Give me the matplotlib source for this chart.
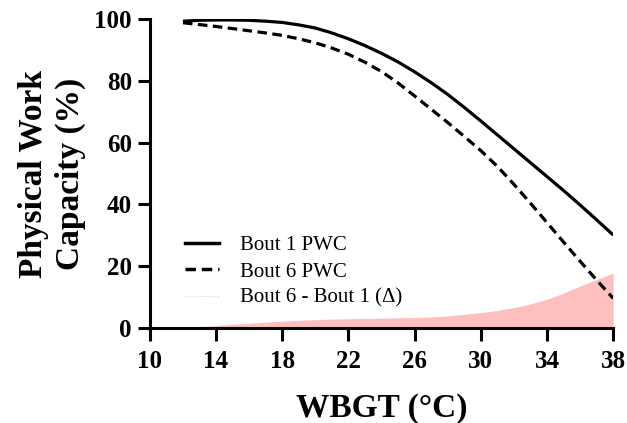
import matplotlib
matplotlib.use('Agg')
import matplotlib.pyplot as plt
from matplotlib.lines import Line2D

wbgt = [12, 13, 14, 15, 16, 17, 18, 19, 20, 21, 22, 23, 24, 25,
        26, 27, 28, 29, 30, 31, 32, 33, 34, 35, 36, 37, 38]
bout1 = [99.3, 99.6, 99.7, 99.7, 99.6, 99.3, 98.9, 98.1, 97.1, 95.5, 93.6, 91.4, 88.9, 86.1,
         82.9, 79.4, 75.6, 71.4, 67.0, 62.5, 58.0, 53.5, 49.0, 44.5, 39.8, 35.0, 30.1]
bout6 = [98.8, 98.2, 97.6, 96.9, 96.2, 95.5, 94.7, 93.6, 92.3, 90.6, 88.6, 86.0, 83.0, 79.3,
         75.1, 70.8, 66.5, 62.0, 57.4, 52.3, 46.5, 40.4, 34.1, 27.8, 21.6, 15.5, 9.6]
delta = [0.0, 0.4, 0.8, 1.2, 1.5, 1.9, 2.2, 2.5, 2.7, 2.9, 3.0, 3.1, 3.2, 3.3,
         3.4, 3.6, 3.9, 4.4, 5.0, 5.7, 6.6, 7.8, 9.3, 11.3, 13.6, 15.7, 17.8]

plt.rcParams['font.family'] = ['Liberation Serif', 'DejaVu Serif']

fig = plt.figure(figsize=(6.27, 4.23), dpi=100)
ax = fig.add_axes([0.239, 0.2246, 0.739, 0.7304])

ax.fill_between(wbgt, 0, delta, color='#ffbfbf', linewidth=0)
ax.plot(wbgt, bout1, color='black', lw=2.3, solid_capstyle='butt')
ax.plot(wbgt, bout6, color='black', lw=2.3, ls=(0, (3, 1.7)))

ax.set_xlim(10, 38)
ax.set_ylim(0, 100)
ax.set_xticks(range(10, 39, 4))
ax.set_yticks(range(0, 101, 20))
for s in ['top', 'right']:
    ax.spines[s].set_visible(False)
for s in ['left', 'bottom']:
    ax.spines[s].set_linewidth(2.2)
ax.tick_params(direction='out', length=9, width=2.2, labelsize=18, pad=4)
ax.tick_params(axis='x', pad=7)
for lab in ax.get_xticklabels() + ax.get_yticklabels():
    lab.set_fontweight('bold')
ax.set_xlabel('WBGT (°C)', fontsize=24, fontweight='bold', labelpad=14)
ax.set_ylabel('Physical Work\nCapacity (%)', fontsize=24, fontweight='bold', labelpad=6,
              linespacing=1.25)

handles = [
    Line2D([], [], color='black', lw=2.5),
    Line2D([], [], color='black', lw=2.5, ls=(0, (3, 1.7))),
    Line2D([], [], color='#f0c8c8', lw=0.8, ls=':'),
]
labels = ['Bout 1 PWC', 'Bout 6 PWC', 'Bout 6 - Bout 1 (Δ)']
ax.legend(handles, labels, loc='lower left', bbox_to_anchor=(0.0756, 0.065),
          frameon=False, fontsize=15, handlelength=1.65, handletextpad=1.0,
          labelspacing=0.32, borderpad=0, borderaxespad=0)

fig.savefig('out.png', dpi=100)
